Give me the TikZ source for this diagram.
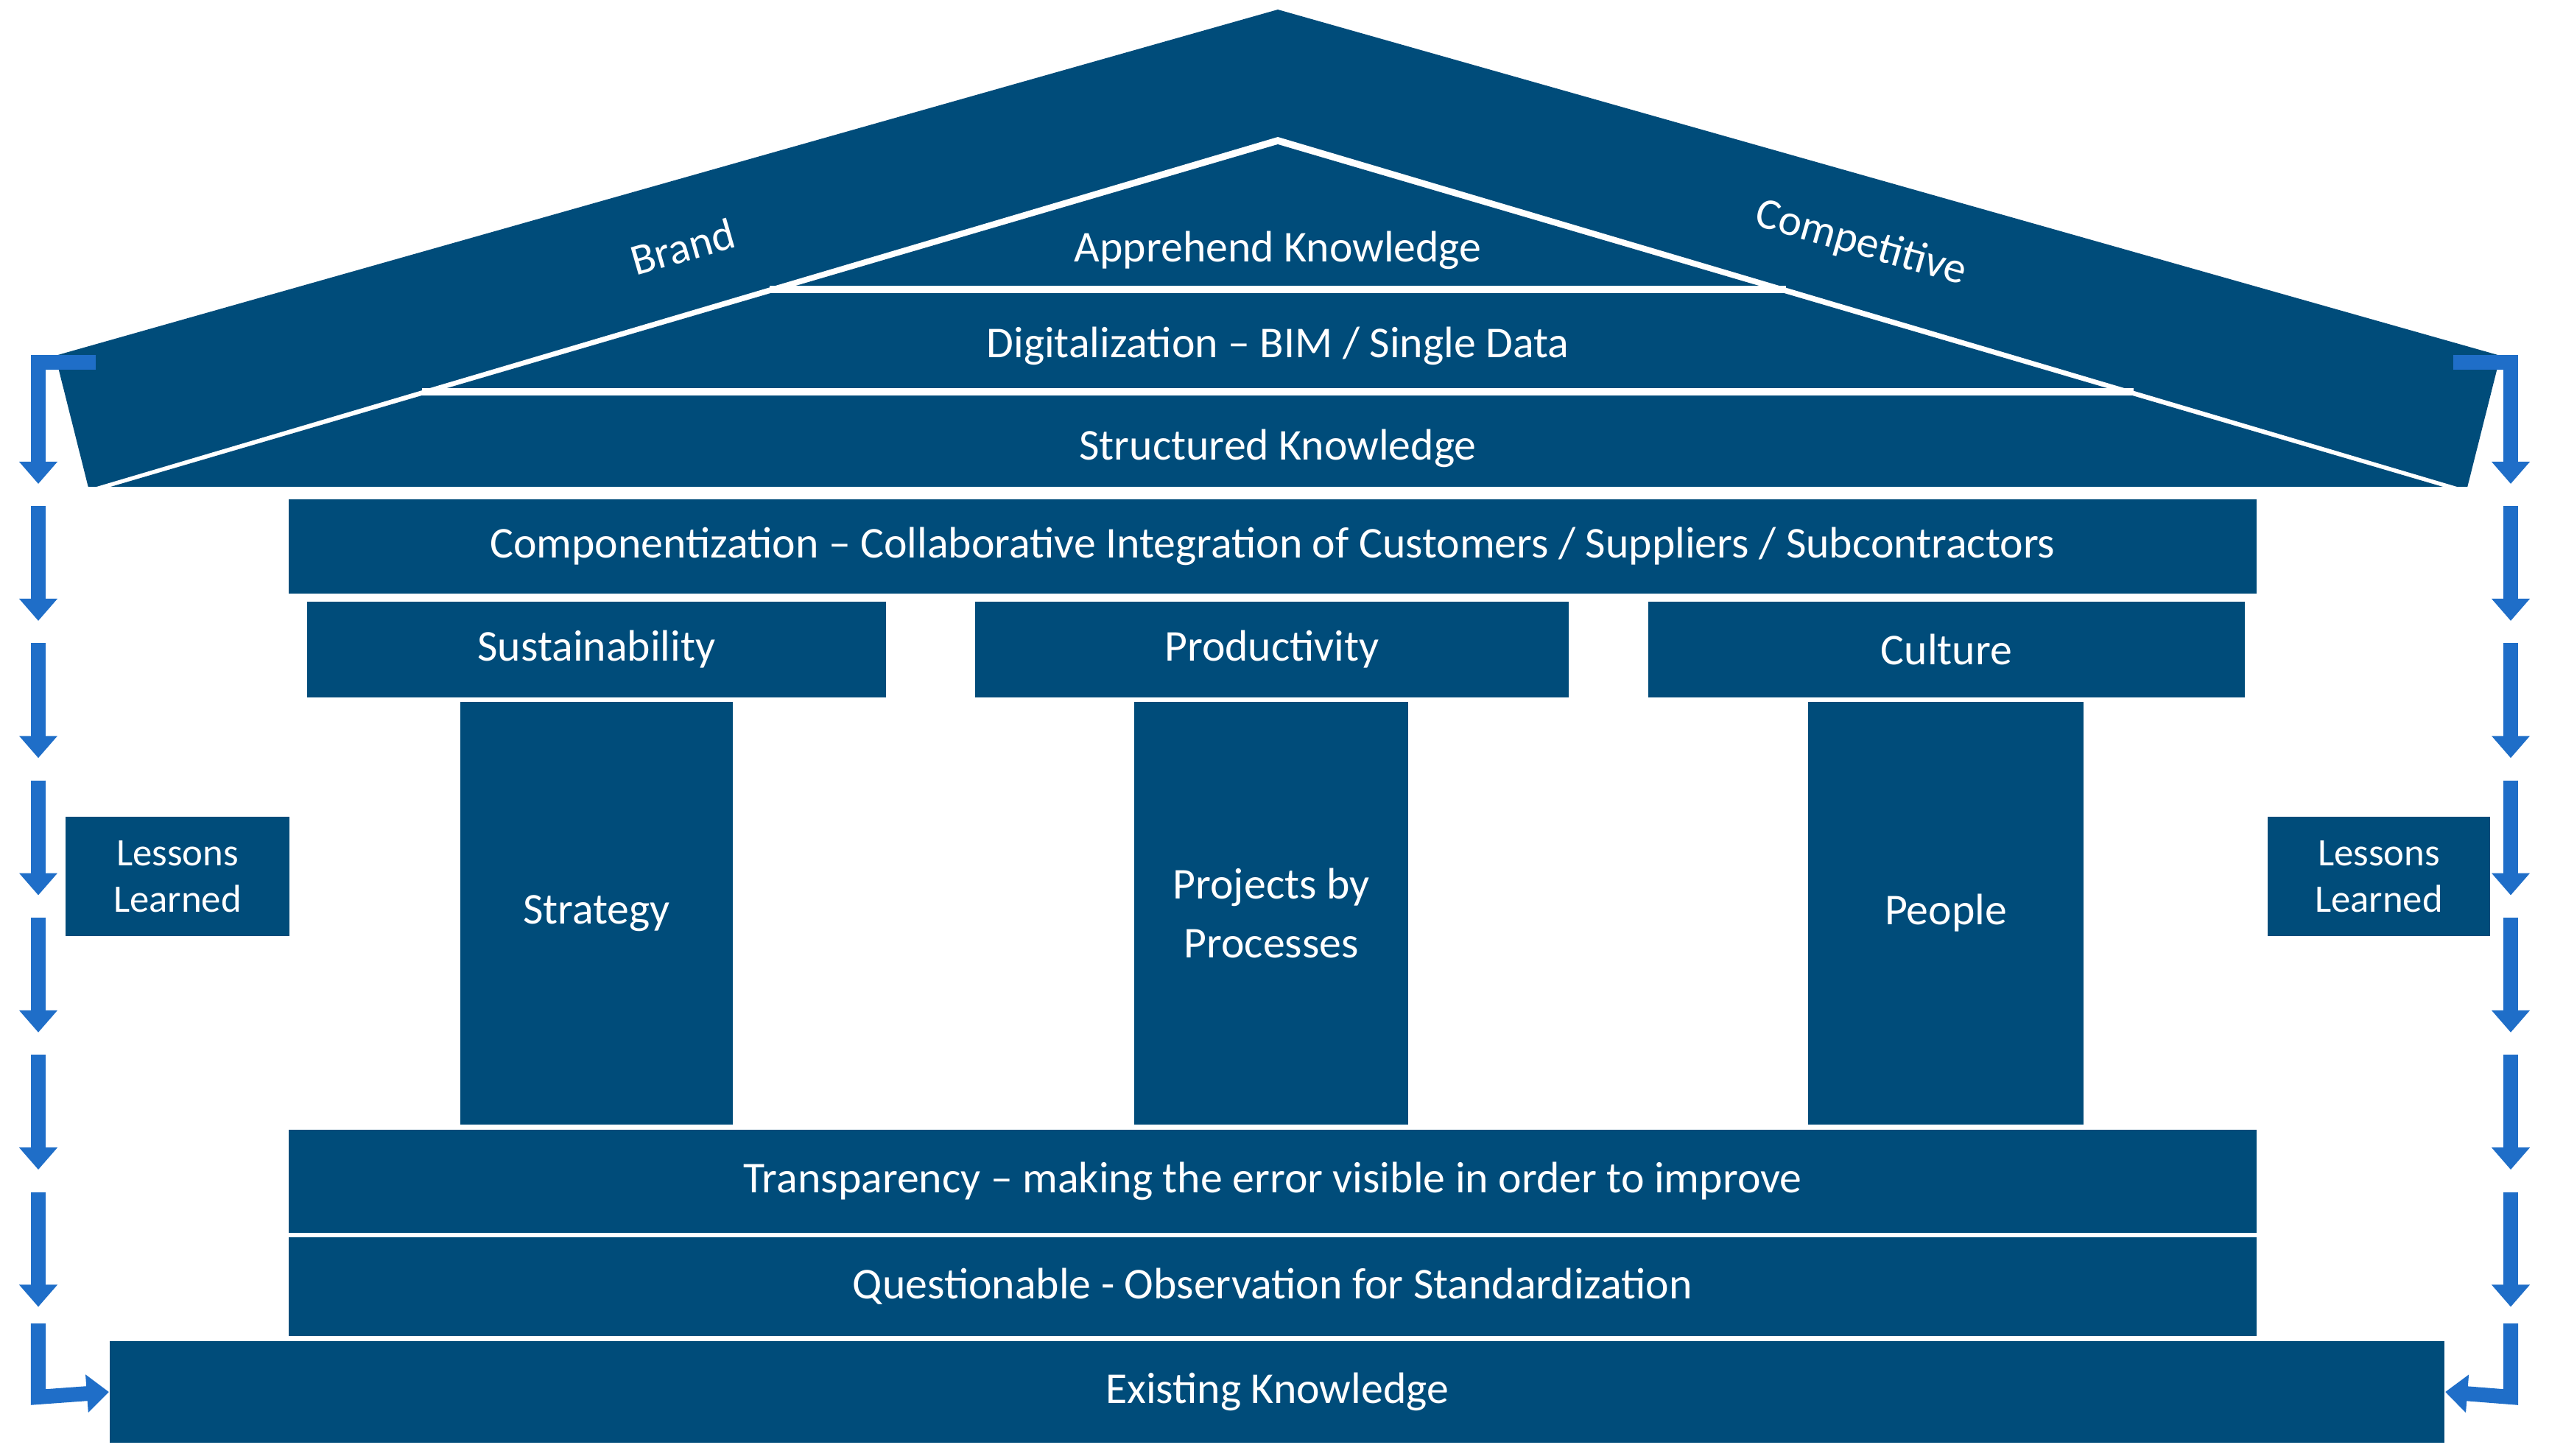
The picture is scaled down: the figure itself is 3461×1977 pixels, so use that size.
\documentclass[tikz,border=0pt]{standalone}
\usepackage{fontspec}
\setmainfont{Carlito}
\usetikzlibrary{arrows.meta}
\definecolor{dk}{RGB}{0,76,122}
\definecolor{ar}{RGB}{31,110,200}
\begin{document}
\begin{tikzpicture}[x=0.01cm,y=-0.01cm,
  box/.style={fill=dk,draw=none,text=white,inner sep=0pt,font=\fontsize{17}{19}\selectfont,align=center},
  lbl/.style={text=white,font=\fontsize{17}{19}\selectfont,inner sep=0pt},
  arr/.style={draw=ar,line width=0.2cm,-{Triangle[length=0.3cm,width=0.5cm]}}]
\useasboundingbox (0,0) rectangle (3461,1977);
% roof
\fill[dk] (75,483) -- (1735,13) -- (3395,483) -- (3350,662) -- (120,662) -- cycle;
\fill[white] (121,664) -- (1735,186) -- (3346,664) -- cycle;
\fill[dk] (140,664) -- (1735,196) -- (3327,664) -- cycle;
\draw[white,line width=3pt] (1045,393) -- (2425,393);
\draw[white,line width=3pt] (573,532) -- (2897,532);
\draw[white,line width=4pt] (100,668) -- (3370,668);
\node[lbl] (app) at (1735,340) {Apprehend Knowledge};
\node[lbl] (dig) at (1735,470) {Digitalization – BIM / Single Data};
\node[lbl] (str) at (1735,609) {Structured Knowledge};
\node[lbl,rotate=16] (brand) at (927,335) {Brand};
\node[lbl,rotate=-16] (comp) at (2527,331) {Competitive};
% boxes
\node[box,minimum width=26.70cm,minimum height=1.28cm] (cmp) at (1728,742) {Componentization – Collaborative Integration of Customers / Suppliers / Subcontractors};
\node[box,minimum width=7.86cm,minimum height=1.30cm] (sus) at (810,882) {Sustainability};
\node[box,minimum width=8.06cm,minimum height=1.30cm] (pro) at (1727,882) {Productivity};
\node[box,minimum width=8.10cm,minimum height=1.30cm] (cul) at (2643,882) {Culture};
\node[box,minimum width=3.70cm,minimum height=5.74cm] (stg) at (810,1240) {Strategy};
\node[box,minimum width=3.71cm,minimum height=5.74cm] (prj) at (1726,1240) {Projects by\\[4pt]Processes};
\node[box,minimum width=3.73cm,minimum height=5.74cm] (ppl) at (2642,1240) {People};
\node[box,minimum width=26.70cm,minimum height=1.39cm] (trn) at (1728,1604) {Transparency – making the error visible in order to improve};
\node[box,minimum width=26.70cm,minimum height=1.34cm] (qst) at (1728,1747) {Questionable - Observation for Standardization};
\node[box,minimum width=31.69cm,minimum height=1.37cm] (ext) at (1734,1890) {Existing Knowledge};
\node[box,minimum width=3.03cm,minimum height=1.61cm,font=\fontsize{15}{17}\selectfont] (ll1) at (241,1190) {Lessons\\[1pt]Learned};
\node[box,minimum width=3.02cm,minimum height=1.61cm,font=\fontsize{15}{17}\selectfont] (ll2) at (3230,1190) {Lessons\\[1pt]Learned};
% arrows left
\coordinate (a0) at (130,492);
\draw[arr] (a0) -- (52,492) -- (52,657);
\foreach \i in {1,...,6}{
  \coordinate (ls\i) at (52,{687+186.3*(\i-1)});
  \coordinate (le\i) at (52,{843+186.3*(\i-1)});
  \draw[arr] (ls\i) -- (le\i);
}
\coordinate (lb) at (52,1797);
\draw[arr] (lb) -- (52,1897) -- (ext.west);
% arrows right
\coordinate (b0) at (3331,492);
\draw[arr] (b0) -- (3409,492) -- (3409,657);
\foreach \i in {1,...,6}{
  \coordinate (rs\i) at (3409,{687+186.3*(\i-1)});
  \coordinate (re\i) at (3409,{843+186.3*(\i-1)});
  \draw[arr] (rs\i) -- (re\i);
}
\coordinate (rb) at (3409,1797);
\draw[arr] (rb) -- (3409,1897) -- (ext.east);
\end{tikzpicture}
\end{document}
